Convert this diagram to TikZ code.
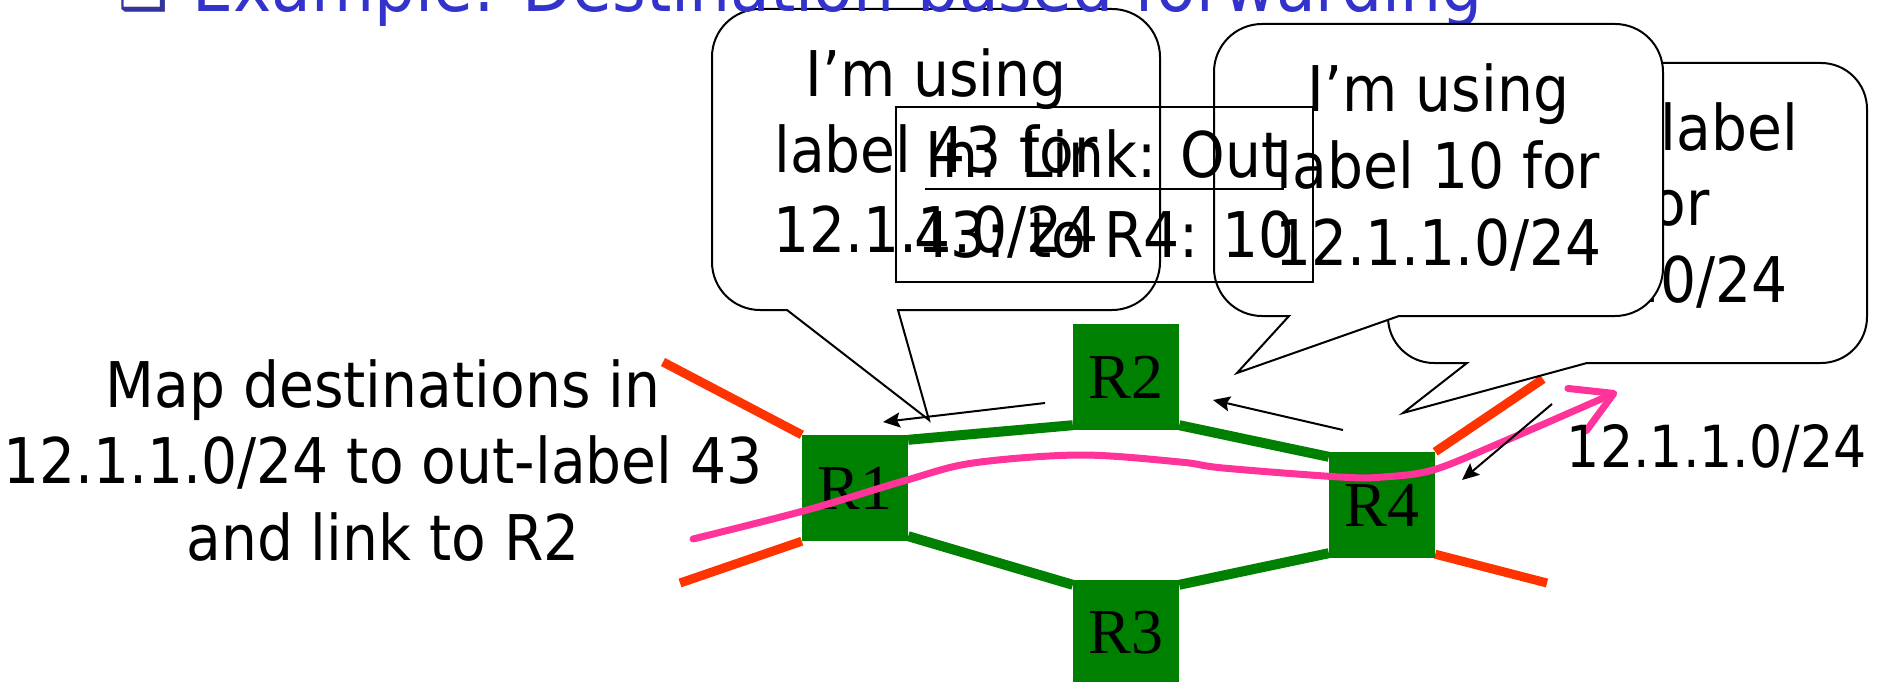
\documentclass[tikz,border=0pt]{standalone}
\usepackage{fontspec}
\usetikzlibrary{arrows.meta}
\newfontfamily\tah[FakeStretch=0.9]{DejaVu Sans}
\newfontfamily\tms{Liberation Serif}
\newfontfamily\dvs{DejaVu Sans}
\definecolor{rgreen}{RGB}{0,128,0}
\definecolor{rorange}{RGB}{255,51,0}
\definecolor{rpink}{RGB}{255,51,153}
\definecolor{tblue}{RGB}{51,51,204}
\definecolor{bblue}{RGB}{51,51,153}
\pgfdeclarelayer{bglayer}
\pgfdeclarelayer{linklayer}
\pgfsetlayers{bglayer,linklayer,main}
\tikzset{
  txt/.style={inner sep=0pt, anchor=base, font=\tah\fontsize{63pt}{76pt}\selectfont},
  bubble/.style={draw=black, line width=2pt, fill=white, line join=miter},
  router/.style={fill=rgreen, minimum width=106pt, minimum height=106pt, inner sep=0pt,
                 font=\tms\fontsize{64pt}{70pt}\selectfont},
  glink/.style={draw=rgreen, line width=10pt},
  oline/.style={draw=rorange, line width=9pt},
  pline/.style={draw=rpink, line width=7pt, line cap=round,
                -{Straight Barb[length=40pt,width=46pt,round]}},
  barrow/.style={draw=black, line width=2pt, -{Stealth[length=17pt,width=15pt,inset=3pt]}}
}
\begin{document}
\begin{tikzpicture}[x=1pt,y=-1pt]
\useasboundingbox (0,0) rectangle (1880,682);
\clip (0,0) rectangle (1880,682);
\begin{pgfonlayer}{bglayer}
\fill[white] (0,0) rectangle (1880,682);
\end{pgfonlayer}

% routers
\node[router] (R1) at (855,488) {R1};
\node[router] (R2) at (1126,377) {R2};
\node[router] (R3) at (1126,633) {R3};
\node[router] (R4) at (1382,505) {R4};

% links (below routers and callouts)
\coordinate (o1) at (663,362);
\coordinate (o2) at (680,583);
\coordinate (o3) at (1543,379);
\coordinate (o4) at (1547,583);
\begin{pgfonlayer}{linklayer}
\draw[oline] (o1) -- (R1.north west);
\draw[oline] (o2) -- (R1.south west);
\draw[oline] (R4.north east) -- (o3);
\draw[oline] ([yshift=4pt]R4.south east) -- (o4);
\draw[glink] ([yshift=-5pt]R1.north east) -- ([yshift=5pt]R2.south west);
\draw[glink] ([yshift=5pt]R2.south east) -- ([yshift=-5pt]R4.north west);
\draw[glink] ([yshift=5pt]R1.south east) -- ([yshift=-5pt]R3.north west);
\draw[glink] ([yshift=-5pt]R3.north east) -- ([yshift=5pt]R4.south west);
\end{pgfonlayer}

% callout 1
\draw[bubble] (787,310) [rounded corners=48pt] -- (712,310) -- (712,9) -- (1160,9) -- (1160,310)
   [sharp corners] -- (898,310) -- (929,420) -- cycle;
\node[txt] (b1a) at (936,97) {I’m using};
\node[txt] (b1b) at (936,173) {label 43 for};
\node[txt] (b1c) at (936,252) {12.1.1.0/24};

% title
\node[anchor=base west, inner sep=0pt, text=bblue, font=\dvs\fontsize{56pt}{60pt}\selectfont] (bullet) at (118,10) {❑};
\node[anchor=base west, inner sep=0pt, text=tblue, font=\tah\fontsize{72pt}{80pt}\selectfont] (title) at (192,12) {Example: Destination-based forwarding};

% callout 3 (behind)
\draw[bubble] (1467,363) [rounded corners=46pt] -- (1388,363) -- (1388,63) -- (1867,63) -- (1867,363)
   [sharp corners] -- (1587,363) -- (1403,413) -- cycle;
\node[txt, anchor=base east] (b3a) at (1798,150) {Using label};
\node[txt, anchor=base east] (b3b) at (1710,225) {10 for};
\node[txt, anchor=base east] (b3c) at (1788,302) {12.1.1.0/24};

% callout 2
\draw[bubble] (1289,316) [rounded corners=48pt] -- (1214,316) -- (1214,24) -- (1663,24) -- (1663,316)
   [sharp corners] -- (1399,316) -- (1237,373) -- cycle;
\node[txt] (b2a) at (1438.5,112) {I’m using};
\node[txt] (b2b) at (1438.5,188) {label 10 for};
\node[txt] (b2c) at (1438.5,265) {12.1.1.0/24};

% table
\node[draw=black, line width=2pt, minimum width=417pt, minimum height=175pt, inner sep=0pt] (tbl) at (1104.5,194.5) {};
\node[txt] (th) at (1104.5,178) {In: Link: Out};
\draw[line width=2.5pt] ([yshift=-11pt]th.base west) -- ([yshift=-11pt]th.base east);
\node[txt] (tr) at (1104.5,257) {43: to R4: 10};

% left text
\node[txt] (m1) at (383,407) {Map destinations in};
\node[txt] (m2) at (383,483) {12.1.1.0/24 to out-label 43};
\node[txt] (m3) at (383,560) {and link to R2};

% pink path
\draw[pline] plot[smooth, tension=0.55] coordinates {(693,539) (807,510) (907,480) (973,463) (1080,455) (1180,462) (1223,468) (1340,477) (1383,477) (1433,470) (1500,443) (1617,392)};

% black arrows
\coordinate (a1s) at (1045,403); \coordinate (a1e) at (883,422);
\coordinate (a2s) at (1343,430); \coordinate (a2e) at (1213,400);
\coordinate (a3s) at (1552,404); \coordinate (a3e) at (1462,480);
\draw[barrow] (a1s) -- (a1e);
\draw[barrow] (a2s) -- (a2e);
\draw[barrow] (a3s) -- (a3e);

\node[txt, anchor=base east, font=\tah\fontsize{58pt}{60pt}\selectfont] (dst) at (1867,467) {12.1.1.0/24};
\end{tikzpicture}
\end{document}
